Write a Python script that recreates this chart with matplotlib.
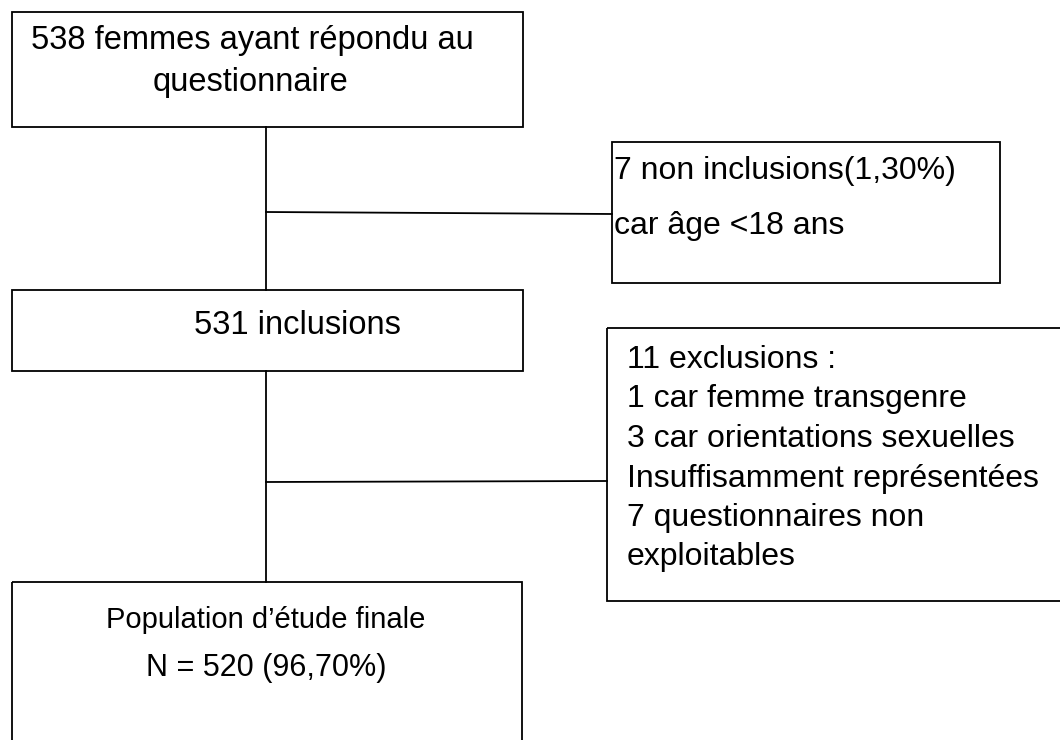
import matplotlib.pyplot as plt
from matplotlib.patches import Rectangle

plt.rcParams['font.family'] = ['Liberation Sans', 'DejaVu Sans']

# contenu des boites
txt_depart = ["538 femmes ayant répondu au", "questionnaire"]
txt_non_incl = ["7 non inclusions(1,30%)", "car âge <18 ans"]
txt_inclusions = ["531 inclusions"]
txt_exclusions = ["11 exclusions :",
                  "1 car femme transgenre",
                  "3 car orientations sexuelles",
                  "Insuffisamment représentées",
                  "7 questionnaires non",
                  "exploitables"]
txt_finale = ["Population d\u2019étude finale", "N = 520 (96,70%)"]

fig = plt.figure(figsize=(10.6, 7.4), dpi=100)
ax = fig.add_axes([0, 0, 1, 1])
ax.set_xlim(0, 1060)
ax.set_ylim(740, 0)
ax.axis('off')

def boite(x, y, w, h):
    ax.add_patch(Rectangle((x, y), w, h, fill=False, edgecolor='black', linewidth=1.3))

def trait(x0, y0, x1, y1):
    ax.plot([x0, x1], [y0, y1], color='black', linewidth=1.3)

# boites (pixels, origine en haut a gauche)
boite(12, 12, 511, 115)
boite(612, 142, 388, 141)
boite(12, 290, 511, 81)
boite(607, 328, 460, 273)
boite(12, 582, 510, 170)

# liaisons
trait(266, 127, 266, 290)
trait(266, 212, 612, 214)
trait(266, 371, 266, 582)
trait(266, 482, 607, 481)

# textes
ax.text(252, 41, txt_depart[0], ha='center', va='center', fontsize=23.5)
ax.text(250, 82, txt_depart[1], ha='center', va='center', fontsize=23.5)

for t, y in zip(txt_non_incl, [171, 226]):
    ax.text(614, y, t, ha='left', va='center', fontsize=23)

ax.text(297, 326, txt_inclusions[0], ha='center', va='center', fontsize=23.5)

for i, t in enumerate(txt_exclusions):
    ax.text(627, 360 + 39.5 * i, t, ha='left', va='center', fontsize=23)

ax.text(266, 620, txt_finale[0], ha='center', va='center', fontsize=21)
ax.text(266, 668, txt_finale[1], ha='center', va='center', fontsize=22)

fig.savefig('out.png', dpi=100)
